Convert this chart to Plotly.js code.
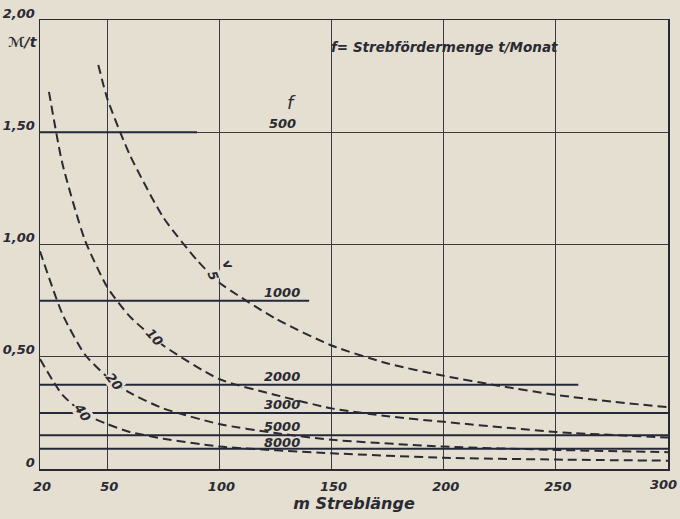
<!DOCTYPE html>
<html>
<head>
<meta charset="utf-8">
<script src="https://cdn.plot.ly/plotly-3.0.1.min.js"></script>
<style>
html,body{margin:0;padding:0;background:#e4dfd0;}
#chart{width:680px;height:519px;}
</style>
</head>
<body>
<div id="chart"></div>
<script>
// ---- data ----
const xTicks = [20, 50, 100, 150, 200, 250, 300];
const xTickLabels = ['20', '50', '100', '150', '200', '250', '300'];
const yTicks = [0, 0.5, 1.0, 1.5, 2.0];
const yTickLabels = ['0', '0,50', '1,00', '1,50', '2,00'];

// dashed curves (v = 5, 10, 20, 40)
const curveNames = ['5', '10', '20', '40'];
const x5  = [46, 50, 60, 75, 90, 100, 125, 150, 175, 200, 225, 250, 275, 300];
const y5  = [1.80, 1.65, 1.40, 1.12, 0.93, 0.83, 0.67, 0.55, 0.47, 0.415, 0.37, 0.33, 0.30, 0.275];
const x10 = [24, 30, 40, 50, 60, 75, 100, 125, 150, 175, 200, 250, 300];
const y10 = [1.68, 1.36, 1.02, 0.81, 0.68, 0.55, 0.40, 0.33, 0.27, 0.235, 0.21, 0.165, 0.14];
const x20 = [20, 30, 40, 50, 60, 75, 100, 125, 150, 200, 250, 300];
const y20 = [0.97, 0.69, 0.51, 0.41, 0.34, 0.27, 0.20, 0.16, 0.13, 0.10, 0.085, 0.075];
const x40 = [20, 30, 40, 50, 60, 75, 100, 150, 200, 250, 300];
const y40 = [0.49, 0.33, 0.245, 0.20, 0.165, 0.135, 0.10, 0.07, 0.05, 0.042, 0.037];
const curveLabelX = [97, 71, 53, 39];

// solid lines f = Strebfördermenge t/Monat
const fNames = ['500', '1000', '2000', '3000', '5000', '8000'];
const fValues = [1.50, 0.75, 0.375, 0.25, 0.15, 0.09];
const fStart = [20, 20, 20, 20, 20, 20];
const fEnd = [90, 140, 260, 300, 300, 300];

// ---- drawing ----
const ink = '#2a2a33';
const lineInk = '#242838';
const fontFam = '"DejaVu Sans", "Liberation Sans", sans-serif';
const curvesX = [x5, x10, x20, x40];
const curvesY = [y5, y10, y20, y40];

const traces = [];
curvesX.forEach((xs, i) => {
  traces.push({
    type: 'scatter', mode: 'lines', x: xs, y: curvesY[i],
    line: {color: ink, width: 2, dash: '9px,5px', shape: 'spline', smoothing: 0.6},
    hoverinfo: 'skip', showlegend: false, name: 'v=' + curveNames[i]
  });
});
fValues.forEach((v, i) => {
  traces.push({
    type: 'scatter', mode: 'lines', x: [fStart[i], fEnd[i]], y: [v, v],
    line: {color: lineInk, width: 2}, hoverinfo: 'skip', showlegend: false, name: 'f=' + fNames[i]
  });
});

function interp(xs, ys, x) {
  for (let i = 0; i < xs.length - 1; i++) {
    if (x >= xs[i] && x <= xs[i + 1]) {
      const t = (x - xs[i]) / (xs[i + 1] - xs[i]);
      return ys[i] + t * (ys[i + 1] - ys[i]);
    }
  }
  return ys[0];
}

const labFont = {family: fontFam, size: 13, color: ink, style: 'italic', weight: 'bold'};
const tickFont = {family: fontFam, size: 13, color: ink, style: 'italic', weight: 'bold'};
const annotations = [];
// f line labels
fNames.forEach((n, i) => {
  annotations.push({
    x: 128, y: fValues[i], xref: 'x', yref: 'y', text: n, showarrow: false,
    xanchor: 'center', yanchor: 'bottom', yshift: (i === 5 ? -3 : -1), font: labFont
  });
});
annotations.push({x: 132, y: fValues[0], xref: 'x', yref: 'y', text: 'f', showarrow: false,
  xanchor: 'center', yanchor: 'bottom', yshift: 17, font: {family: fontFam, size: 18, color: ink, style: 'italic'}});
// curve labels
const curveAngles = [70, 48, 52, 55];
curveNames.forEach((n, i) => {
  const lx = curveLabelX[i];
  annotations.push({
    x: lx, y: interp(curvesX[i], curvesY[i], lx), xref: 'x', yref: 'y', text: n, showarrow: false,
    textangle: curveAngles[i], bgcolor: '#e4dfd0', font: labFont, borderpad: 0
  });
});
annotations.push({x: curveLabelX[0], y: interp(x5, y5, curveLabelX[0]), xref: 'x', yref: 'y', text: 'v',
  showarrow: false, textangle: 60, xshift: 15, yshift: 11, font: labFont});
// title note
annotations.push({x: 150, y: 1.88, xref: 'x', yref: 'y', text: 'f= Strebfördermenge t/Monat', showarrow: false,
  xanchor: 'left', yanchor: 'middle', xshift: -3, font: {family: fontFam, size: 13.5, color: ink, style: 'italic', weight: 'bold'}});
// y unit
annotations.push({x: 0, y: 1.90, xref: 'paper', yref: 'y', text: 'ℳ/t', showarrow: false,
  xanchor: 'right', yanchor: 'middle', xshift: 0, font: {family: fontFam, size: 14, color: ink, style: 'italic', weight: 'bold'}});
// last x tick label, kept inside the page
const lastTick = xTicks.length - 1;
annotations.push({x: xTicks[lastTick], y: 0, xref: 'x', yref: 'paper', text: xTickLabels[lastTick], showarrow: false,
  xanchor: 'right', yanchor: 'top', xshift: 11, yshift: -6, font: tickFont});
const axisTickText = xTickLabels.map((t, i) => (i === lastTick ? '' : t));

const layout = {
  width: 680, height: 519,
  paper_bgcolor: '#e4dfd0', plot_bgcolor: '#e4dfd0',
  margin: {l: 40, r: 12, t: 20, b: 50},
  showlegend: false,
  xaxis: {
    range: [20, 300], tickvals: xTicks, ticktext: axisTickText, ticks: '',
    showgrid: true, gridcolor: '#3a3a40', gridwidth: 1.2, zeroline: false,
    showline: true, linecolor: ink, linewidth: 1.5, mirror: true,
    ticklabeloverflow: 'allow', ticklabelstandoff: 5, ticklabelshift: 2,
    tickfont: tickFont,
    title: {text: 'm Streblänge', font: {family: fontFam, size: 16, color: ink, style: 'italic', weight: 'bold'}, standoff: 2}
  },
  yaxis: {
    range: [0, 2.0], tickvals: yTicks, ticktext: yTickLabels, ticks: '',
    showgrid: true, gridcolor: '#3a3a40', gridwidth: 1.2, zeroline: false,
    showline: true, linecolor: ink, linewidth: 1.5, mirror: true,
    ticklabelshift: -7, ticklabelstandoff: 1,
    tickfont: tickFont
  },
  annotations: annotations
};

Plotly.newPlot('chart', traces, layout, {displayModeBar: false, staticPlot: true});
</script>
</body>
</html>
